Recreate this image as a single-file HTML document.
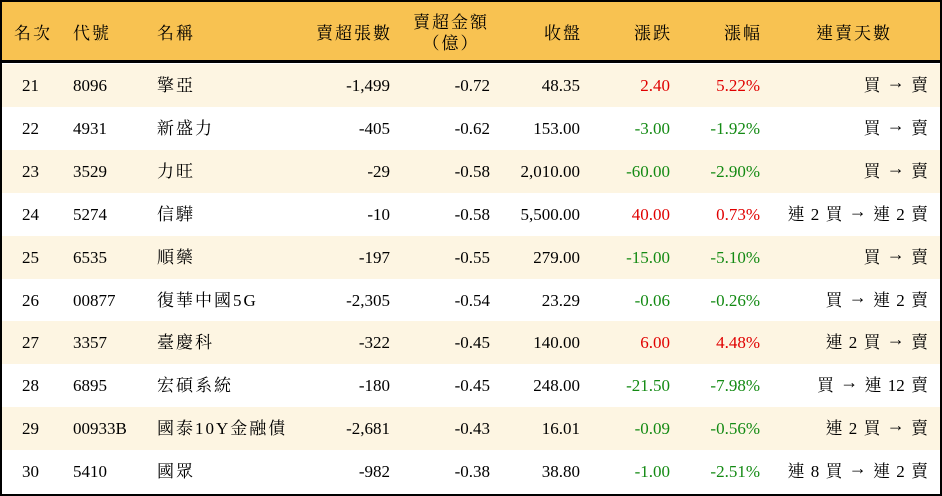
<!DOCTYPE html>
<html><head><meta charset="utf-8"><style>
*{margin:0;padding:0;box-sizing:border-box}
body{width:942px;height:496px;background:#fff;overflow:hidden;font-family:"Liberation Serif","Noto Serif CJK TC",serif;font-size:17px;color:#000}
.wrap{position:absolute;left:0;top:0;width:942px;height:496px;border:2px solid #000}
.hdr{position:absolute;left:0;top:0;width:938px;height:61px;background:#F8C251;border-bottom:3px solid #000}
.row{position:absolute;left:0;width:938px;height:43px}
.c{position:absolute;top:0;line-height:43px;white-space:nowrap}
.k{letter-spacing:2px}
.r{text-align:right}
.a{font-family:"Liberation Serif","DejaVu Serif",serif;font-size:18px;position:relative;top:-3px}
.red{color:#E00000}.grn{color:#138a13}
</style></head><body><div class="wrap">
<div class="hdr">
<div class="c k" style="left:12px;top:10px">名次</div>
<div class="c k" style="left:71px;top:10px">代號</div>
<div class="c k" style="left:155px;top:10px">名稱</div>
<div class="c r k" style="right:548px;top:10px">賣超張數</div>
<div class="c k" style="left:411px;top:10px;line-height:21px;text-align:center">賣超金額<br>（億）</div>
<div class="c r k" style="right:358px;top:10px">收盤</div>
<div class="c r k" style="right:268px;top:10px">漲跌</div>
<div class="c r k" style="right:178px;top:10px">漲幅</div>
<div class="c k" style="left:814px;top:10px">連賣天數</div>
</div>
<div id="rows"></div>
</div>
<script>
var d=[["21","8096","擎亞","-1,499","-0.72","48.35","2.40","5.22%","買 → 賣"],
["22","4931","新盛力","-405","-0.62","153.00","-3.00","-1.92%","買 → 賣"],
["23","3529","力旺","-29","-0.58","2,010.00","-60.00","-2.90%","買 → 賣"],
["24","5274","信驊","-10","-0.58","5,500.00","40.00","0.73%","連 2 買 → 連 2 賣"],
["25","6535","順藥","-197","-0.55","279.00","-15.00","-5.10%","買 → 賣"],
["26","00877","復華中國5G","-2,305","-0.54","23.29","-0.06","-0.26%","買 → 連 2 賣"],
["27","3357","臺慶科","-322","-0.45","140.00","6.00","4.48%","連 2 買 → 賣"],
["28","6895","宏碩系統","-180","-0.45","248.00","-21.50","-7.98%","買 → 連 12 賣"],
["29","00933B","國泰10Y金融債","-2,681","-0.43","16.01","-0.09","-0.56%","連 2 買 → 賣"],
["30","5410","國眾","-982","-0.38","38.80","-1.00","-2.51%","連 8 買 → 連 2 賣"]];
var h="";
d.forEach(function(r,i){var top=62+i*42.9;var bg=i%2==0?"#FDF5E2":"#fff";var cl=r[6][0]=="-"?"grn":"red";
var s=r[8].replace("→",'<span class="a">→</span>');
h+='<div class="row" style="top:'+top+'px;background:'+bg+'">'+
'<div class="c" style="left:20px">'+r[0]+'</div>'+
'<div class="c" style="left:71px">'+r[1]+'</div>'+
'<div class="c k" style="left:155px">'+r[2]+'</div>'+
'<div class="c r" style="right:550px">'+r[3]+'</div>'+
'<div class="c r" style="right:450px">'+r[4]+'</div>'+
'<div class="c r" style="right:360px">'+r[5]+'</div>'+
'<div class="c r '+cl+'" style="right:270px">'+r[6]+'</div>'+
'<div class="c r '+cl+'" style="right:180px">'+r[7]+'</div>'+
'<div class="c r" style="right:12px;word-spacing:2px">'+s+'</div></div>';});
document.getElementById("rows").innerHTML=h;
</script>
</body></html>
